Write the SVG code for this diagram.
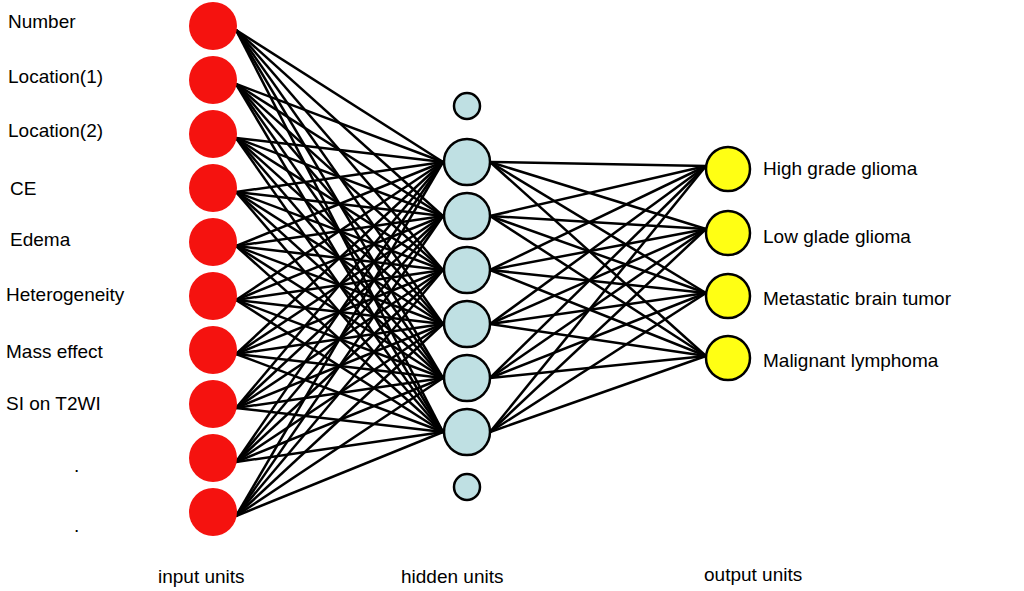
<svg xmlns="http://www.w3.org/2000/svg" width="1024" height="591" viewBox="0 0 1024 591">
<style>
text{font-family:"Liberation Sans",Arial,sans-serif;font-size:19px;fill:#000}
.in{fill:#f5120f}
.hid{fill:#bfe0e3;stroke:#000;stroke-width:2.5}
.out{fill:#ffff14;stroke:#000;stroke-width:2.5}
#connectors line{stroke:#000;stroke-width:2.5}
</style>
<rect width="1024" height="591" fill="#fff"/>
<g id="connectors">
<!-- input->hidden generated -->
<line x1="236" y1="30" x2="443" y2="162"/><line x1="236" y1="30" x2="443" y2="216"/><line x1="236" y1="30" x2="443" y2="270"/><line x1="236" y1="30" x2="443" y2="324"/><line x1="236" y1="30" x2="443" y2="378"/><line x1="236" y1="30" x2="443" y2="432"/>
<line x1="236" y1="84" x2="443" y2="162"/><line x1="236" y1="84" x2="443" y2="216"/><line x1="236" y1="84" x2="443" y2="270"/><line x1="236" y1="84" x2="443" y2="324"/><line x1="236" y1="84" x2="443" y2="378"/><line x1="236" y1="84" x2="443" y2="432"/>
<line x1="236" y1="138" x2="443" y2="162"/><line x1="236" y1="138" x2="443" y2="216"/><line x1="236" y1="138" x2="443" y2="270"/><line x1="236" y1="138" x2="443" y2="324"/><line x1="236" y1="138" x2="443" y2="378"/><line x1="236" y1="138" x2="443" y2="432"/>
<line x1="236" y1="192" x2="443" y2="162"/><line x1="236" y1="192" x2="443" y2="216"/><line x1="236" y1="192" x2="443" y2="270"/><line x1="236" y1="192" x2="443" y2="324"/><line x1="236" y1="192" x2="443" y2="378"/><line x1="236" y1="192" x2="443" y2="432"/>
<line x1="236" y1="246" x2="443" y2="162"/><line x1="236" y1="246" x2="443" y2="216"/><line x1="236" y1="246" x2="443" y2="270"/><line x1="236" y1="246" x2="443" y2="324"/><line x1="236" y1="246" x2="443" y2="378"/><line x1="236" y1="246" x2="443" y2="432"/>
<line x1="236" y1="300" x2="443" y2="162"/><line x1="236" y1="300" x2="443" y2="216"/><line x1="236" y1="300" x2="443" y2="270"/><line x1="236" y1="300" x2="443" y2="324"/><line x1="236" y1="300" x2="443" y2="378"/><line x1="236" y1="300" x2="443" y2="432"/>
<line x1="236" y1="354" x2="443" y2="162"/><line x1="236" y1="354" x2="443" y2="216"/><line x1="236" y1="354" x2="443" y2="270"/><line x1="236" y1="354" x2="443" y2="324"/><line x1="236" y1="354" x2="443" y2="378"/><line x1="236" y1="354" x2="443" y2="432"/>
<line x1="236" y1="408" x2="443" y2="162"/><line x1="236" y1="408" x2="443" y2="216"/><line x1="236" y1="408" x2="443" y2="270"/><line x1="236" y1="408" x2="443" y2="324"/><line x1="236" y1="408" x2="443" y2="378"/><line x1="236" y1="408" x2="443" y2="432"/>
<line x1="236" y1="462" x2="443" y2="162"/><line x1="236" y1="462" x2="443" y2="216"/><line x1="236" y1="462" x2="443" y2="270"/><line x1="236" y1="462" x2="443" y2="324"/><line x1="236" y1="462" x2="443" y2="378"/><line x1="236" y1="462" x2="443" y2="432"/>
<line x1="236" y1="516" x2="443" y2="162"/><line x1="236" y1="516" x2="443" y2="216"/><line x1="236" y1="516" x2="443" y2="270"/><line x1="236" y1="516" x2="443" y2="324"/><line x1="236" y1="516" x2="443" y2="378"/><line x1="236" y1="516" x2="443" y2="432"/>
<line x1="490" y1="162" x2="706" y2="166"/><line x1="490" y1="162" x2="706" y2="229"/><line x1="490" y1="162" x2="706" y2="293"/><line x1="490" y1="162" x2="706" y2="356"/>
<line x1="490" y1="216" x2="706" y2="166"/><line x1="490" y1="216" x2="706" y2="229"/><line x1="490" y1="216" x2="706" y2="293"/><line x1="490" y1="216" x2="706" y2="356"/>
<line x1="490" y1="270" x2="706" y2="166"/><line x1="490" y1="270" x2="706" y2="229"/><line x1="490" y1="270" x2="706" y2="293"/><line x1="490" y1="270" x2="706" y2="356"/>
<line x1="490" y1="324" x2="706" y2="166"/><line x1="490" y1="324" x2="706" y2="229"/><line x1="490" y1="324" x2="706" y2="293"/><line x1="490" y1="324" x2="706" y2="356"/>
<line x1="490" y1="378" x2="706" y2="166"/><line x1="490" y1="378" x2="706" y2="229"/><line x1="490" y1="378" x2="706" y2="293"/><line x1="490" y1="378" x2="706" y2="356"/>
<line x1="490" y1="432" x2="706" y2="166"/><line x1="490" y1="432" x2="706" y2="229"/><line x1="490" y1="432" x2="706" y2="293"/><line x1="490" y1="432" x2="706" y2="356"/>
</g>
<g id="input-nodes">
<circle id="in1" class="in" cx="213" cy="26" r="24"/>
<circle id="in2" class="in" cx="213" cy="80" r="24"/>
<circle id="in3" class="in" cx="213" cy="134" r="24"/>
<circle id="in4" class="in" cx="213" cy="188" r="24"/>
<circle id="in5" class="in" cx="213" cy="242" r="24"/>
<circle id="in6" class="in" cx="213" cy="296" r="24"/>
<circle id="in7" class="in" cx="213" cy="350" r="24"/>
<circle id="in8" class="in" cx="213" cy="404" r="24"/>
<circle id="in9" class="in" cx="213" cy="458" r="24"/>
<circle id="in10" class="in" cx="213" cy="512" r="24"/>
</g>
<g id="hidden-nodes">
<circle id="h0" class="hid" cx="467" cy="106" r="13"/>
<circle id="h1" class="hid" cx="467" cy="162" r="23"/>
<circle id="h2" class="hid" cx="467" cy="216" r="23"/>
<circle id="h3" class="hid" cx="467" cy="270" r="23"/>
<circle id="h4" class="hid" cx="467" cy="324" r="23"/>
<circle id="h5" class="hid" cx="467" cy="378" r="23"/>
<circle id="h6" class="hid" cx="467" cy="432" r="23"/>
<circle id="h7" class="hid" cx="467" cy="487" r="13"/>
</g>
<g id="output-nodes">
<circle id="o1" class="out" cx="728" cy="169" r="22"/>
<circle id="o2" class="out" cx="728" cy="233" r="22"/>
<circle id="o3" class="out" cx="728" cy="296" r="22"/>
<circle id="o4" class="out" cx="728" cy="358" r="22"/>
</g>
<g id="labels">
<text x="8" y="28">Number</text>
<text x="8" y="83">Location(1)</text>
<text x="8" y="137">Location(2)</text>
<text x="10" y="195">CE</text>
<text x="10" y="246">Edema</text>
<text x="6" y="301">Heterogeneity</text>
<text x="6" y="358">Mass effect</text>
<text x="6" y="410">SI on T2WI</text>
<text x="74" y="472">.</text>
<text x="74" y="532">.</text>
<text x="763" y="175">High grade glioma</text>
<text x="763" y="243">Low glade glioma</text>
<text x="763" y="305">Metastatic brain tumor</text>
<text x="763" y="367">Malignant lymphoma</text>
<text x="158" y="583">input units</text>
<text x="401" y="583">hidden units</text>
<text x="704" y="581">output units</text>
</g>
</svg>
